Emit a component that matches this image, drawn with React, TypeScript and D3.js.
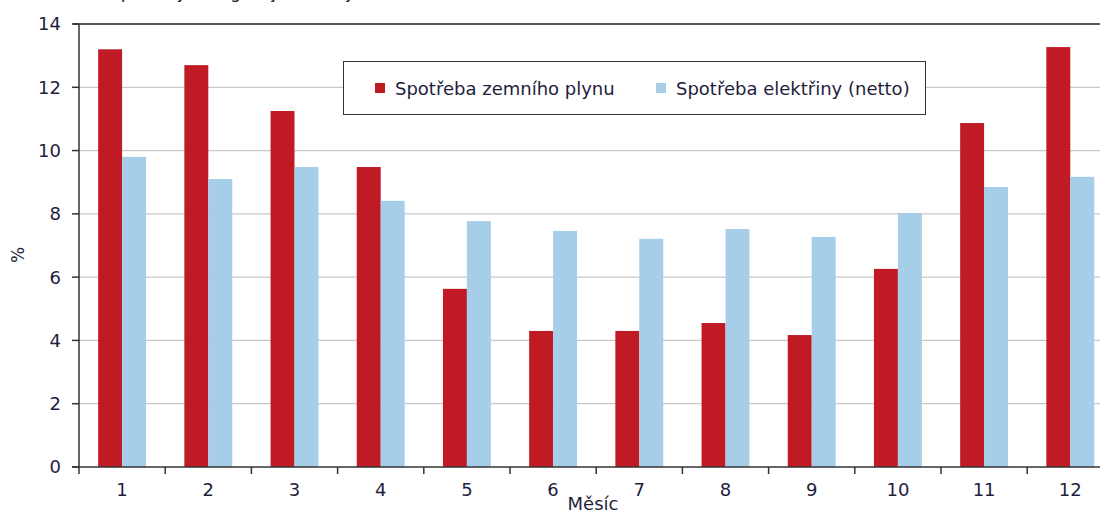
import * as d3 from "d3";

const months = ["1", "2", "3", "4", "5", "6", "7", "8", "9", "10", "11", "12"];
const gasValues = [13.2, 12.7, 11.25, 9.48, 5.63, 4.3, 4.3, 4.55, 4.17, 6.26, 10.87, 13.27];
const elecValues = [9.8, 9.1, 9.48, 8.41, 7.77, 7.46, 7.21, 7.52, 7.27, 8.03, 8.85, 9.17];
const seriesNames = ["Spotřeba zemního plynu", "Spotřeba elektřiny (netto)"];
const yTicks = [0, 2, 4, 6, 8, 10, 12, 14];

const W = 1100;
const H = 513;
const FONT = "'DejaVu Sans', sans-serif";
const colors = ["#c01a24", "#a7cee8"];
const textColor = "#1e1e3c";

export default function App() {
  const left = 79;
  const bottom = 467;
  const top = 24;

  const x = d3.scaleBand().domain(months).range([left, left + 12 * 86.2]).padding(0);
  const x1 = d3.scaleBand().domain(seriesNames).range([0, x.bandwidth()]).paddingInner(0).paddingOuter(0.8);
  const y = d3.scaleLinear().domain([0, 14]).range([bottom, top]);

  const series = [gasValues, elecValues];

  return (
    <svg
      width={W}
      height={H}
      style={{ position: "absolute", left: 0, top: 0, background: "#fff" }}
      fontFamily={FONT}
    >
      <text x={8} y={-2} fontSize={17} fill="#222">
        Graf 1 Podíl spotřeby energií v jednotlivých měsících roku
      </text>

      {/* gridlines */}
      {yTicks.slice(1, -1).map((t) => (
        <line key={t} x1={left} x2={W} y1={y(t)} y2={y(t)} stroke="#c9c9c9" strokeWidth={1.3} />
      ))}
      <line x1={left - 6} x2={W} y1={y(14)} y2={y(14)} stroke="#555" strokeWidth={2} />

      {/* bars */}
      {series.map((vals, si) =>
        vals.map((v, i) => (
          <rect
            key={`${si}-${i}`}
            x={x(months[i])! + x1(seriesNames[si])!}
            y={y(v)}
            width={x1.bandwidth()}
            height={y(0) - y(v)}
            fill={colors[si]}
          />
        ))
      )}

      {/* y axis */}
      <line x1={left} x2={left} y1={top} y2={bottom + 7} stroke="#333" strokeWidth={1.5} />
      {yTicks.map((t) => (
        <g key={t}>
          <line x1={left - 7} x2={left} y1={y(t)} y2={y(t)} stroke="#333" strokeWidth={1.5} />
          <text x={61} y={y(t)} dy="0.36em" textAnchor="end" fontSize={18} fill={textColor}>
            {t}
          </text>
        </g>
      ))}
      <text
        transform={`translate(24, 255) rotate(-90)`}
        textAnchor="middle"
        fontSize={17}
        fill={textColor}
      >
        %
      </text>

      {/* x axis */}
      <line x1={left - 7} x2={W} y1={bottom} y2={bottom} stroke="#333" strokeWidth={1.5} />
      {months.map((m) => (
        <g key={m}>
          <line x1={x(m)! + x.bandwidth()} x2={x(m)! + x.bandwidth()} y1={bottom} y2={bottom + 7} stroke="#333" strokeWidth={1.5} />
          <text x={x(m)! + x.bandwidth() / 2} y={496} textAnchor="middle" fontSize={18} fill={textColor}>
            {m}
          </text>
        </g>
      ))}
      <text x={593} y={510} textAnchor="middle" fontSize={18} fill={textColor}>
        Měsíc
      </text>

      {/* legend */}
      <rect x={343.5} y={61.5} width={582} height={53} fill="#fff" stroke="#333" strokeWidth={1} />
      {seriesNames.map((s, i) => {
        const lx = i === 0 ? 375 : 656;
        return (
          <g key={s}>
            <rect x={lx} y={83} width={10} height={10} fill={colors[i]} />
            <text x={lx + 20} y={95} fontSize={18} fill={textColor}>
              {s}
            </text>
          </g>
        );
      })}
    </svg>
  );
}
